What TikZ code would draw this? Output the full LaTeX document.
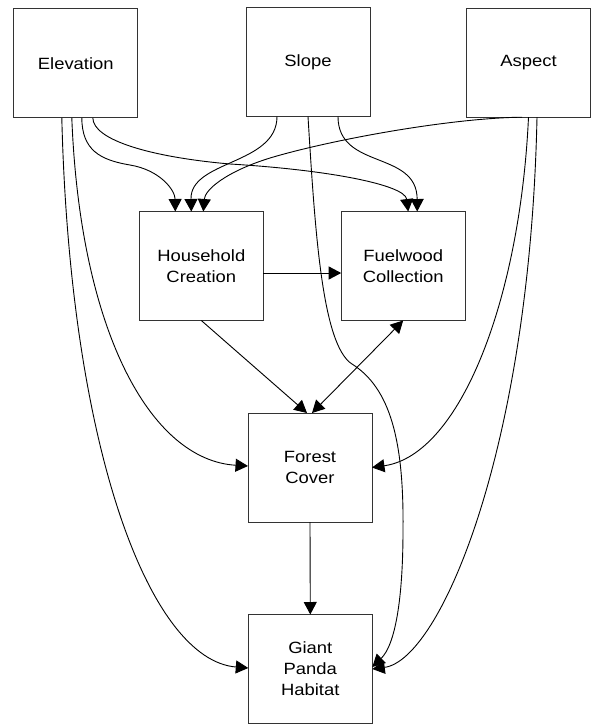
\documentclass[tikz,border=0pt]{standalone}
\usepackage{fontspec}
\newfontfamily\boxfont[FakeStretch=1.13]{Liberation Sans}
\usetikzlibrary{arrows.meta,calc}
\tikzset{
  box/.style={draw=black!80, line width=1pt, minimum width=124pt, minimum height=109pt,
    inner sep=0pt, outer sep=0pt, align=center, font=\boxfont\fontsize{16.3}{21}\selectfont},
  link/.style={line width=0.9pt, -{Triangle[length=12.5pt,width=13pt]}},
  twolink/.style={line width=0.9pt, {Triangle[length=12.5pt,width=13pt]}-{Triangle[length=12.5pt,width=13pt]}}
}
\begin{document}
\begin{tikzpicture}[x=1pt,y=-1pt]
\useasboundingbox (0,0) rectangle (592,724);
\node[box] (elev)   at (75.8,63.3)  {Elevation};
\node[box] (slope)  at (308,62)     {Slope};
\node[box] (aspect) at (528.5,62.7) {Aspect};
\node[box] (house)  at (201.3,266)  {Household\\Creation};
\node[box] (fuel)   at (403.2,266)  {Fuelwood\\Collection};
\node[box] (forest) at (310,467.5)  {Forest\\Cover};
\node[box] (gph)    at (310.3,669)  {Giant\\Panda\\Habitat};

% Elevation
\draw[link] ($(elev.south)+(6,0)$) .. controls (82,150) and (100,160) .. (130,165)
  .. controls (160,170) and (175,190) .. ($(house.north)+(-26,0)$);
\draw[link] ($(elev.south)+(17,0)$) .. controls (93,140) and (150,157) .. (230,164)
  .. controls (330,170) and (405,185) .. ($(fuel.north)+(5,0)$);
\draw[link] ($(elev.south)+(-4,0)$) .. controls (80,330) and (150,460) .. ($(forest.west)+(0,-1.5)$);
\draw[link] ($(elev.south)+(-14,0)$) .. controls (70,450) and (150,660) .. ($(gph.west)+(0,-1)$);

% Slope
\draw[link] ($(slope.south)+(-31,0)$) .. controls (277,165) and (190,160) .. ($(house.north)+(-10,0)$);
\draw[link] ($(slope.south)+(30,0)$) .. controls (338,170) and (417,150) .. ($(fuel.north)+(14,0)$);
\draw[link] (slope.south) .. controls (315,230) and (322,345) .. (352,364)
  .. controls (390,388) and (404,440) .. (403,530)
  .. controls (403,600) and (395,645) .. ($(gph.east)+(0,-2)$);

% Aspect
\draw[link] ($(aspect.south)+(-6.5,0)$) .. controls (450,118) and (330,140) .. (270,158)
  .. controls (225,172) and (205,190) .. ($(house.north)+(2,0)$);
\draw[link] (aspect.south) .. controls (520,300) and (460,455) .. (forest.east);
\draw[link] ($(aspect.south)+(8.5,0)$) .. controls (530,450) and (440,660) .. (gph.east);

% Middle
\draw[link] ($(house.east)+(0,7)$) -- ($(fuel.west)+(0,7)$);
\draw[link] (house.south) -- ($(forest.north)+(-3,0)$);
\draw[twolink] (fuel.south) -- ($(forest.north)+(2,0)$);
\draw[link] (forest.south) -- (gph.north);
\end{tikzpicture}
\end{document}
